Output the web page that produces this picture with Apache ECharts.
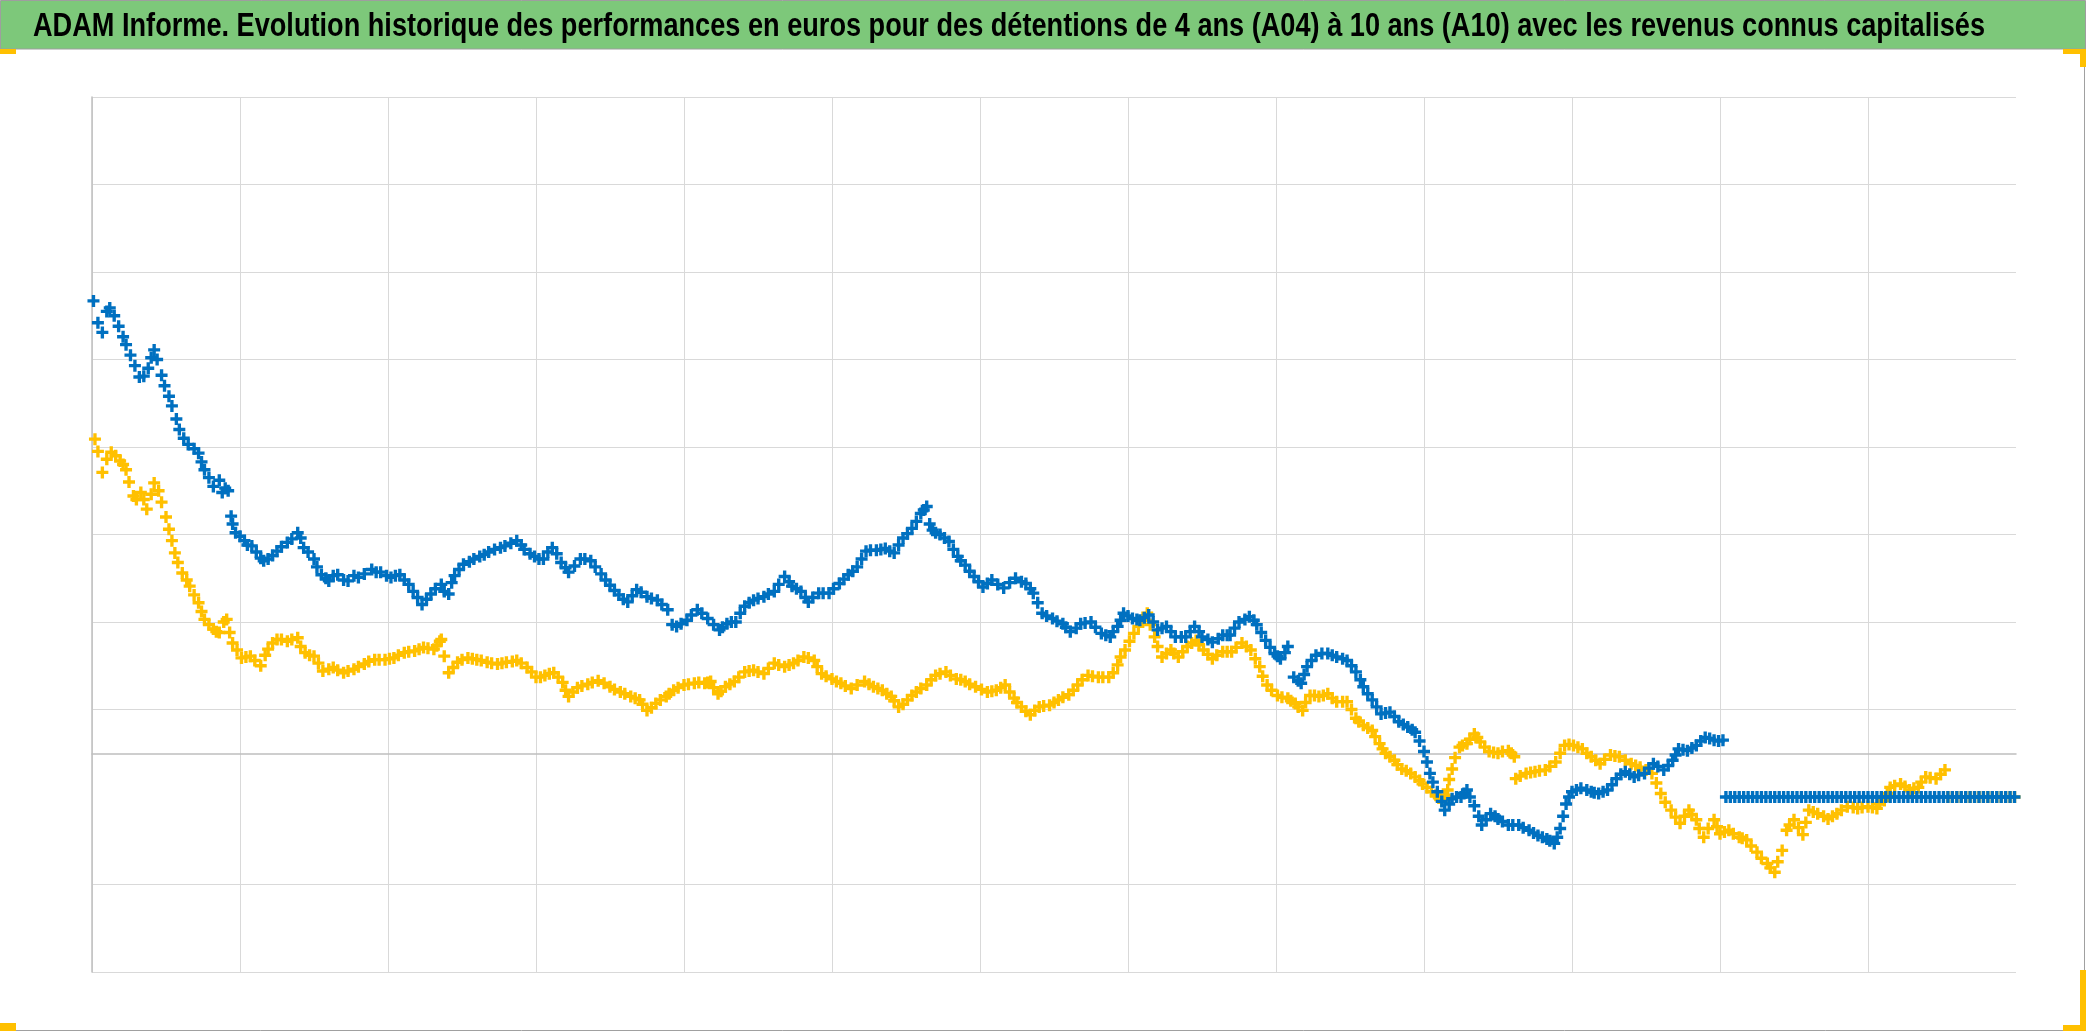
<!DOCTYPE html>
<html>
<head>
<meta charset="utf-8">
<script src="https://cdn.jsdelivr.net/npm/echarts@6/dist/echarts.min.js"></script>
<style>
html,body{margin:0;padding:0;background:#fff;}
#chart{width:2086px;height:1031px;}
</style>
</head>
<body>
<div id="chart"></div>
<script>
const titleText = 'ADAM Informe. Evolution historique des performances en euros pour des détentions de 4 ans (A04) à 10 ans (A10) avec les revenus connus capitalisés';

// x = time index (no labels shown), y = performance (euros, arbitrary scale)
const a10Perf = [[1,517],[7,481],[12,509],[18,488],[23,467],[29,443],[35,431],[40,452],[44,450],[49,420],[54,397],[59,370],[65,353],[72,343],[76,324],[82,305],[88,298],[92,300],[94,271],[97,252],[103,243],[108,237],[114,223],[119,222],[125,231],[132,241],[139,252],[143,235],[150,222],[155,204],[160,197],[166,204],[173,197],[180,201],[189,210],[195,207],[202,201],[208,204],[214,193],[220,178],[223,170],[229,182],[236,193],[241,182],[245,203],[251,216],[258,222],[265,227],[272,233],[279,237],[287,243],[292,233],[299,225],[305,222],[311,235],[317,218],[322,207],[330,222],[337,220],[344,205],
[350,192],[356,181],[362,173],[368,187],[375,179],[382,175],[389,164],[392,147],[395,145],[402,152],[409,164],[416,154],[424,141],[429,148],[435,150],[441,168],[447,175],[454,179],[461,185],[468,202],[473,191],[479,185],[484,173],[491,183],[498,183],[505,194],[511,204],[517,213],[523,231],[530,232],[536,234],[542,229],[548,246],[554,257],[560,274],[564,282],[568,255],[573,250],[579,242],[585,225],[590,215],[596,202],[602,190],[608,198],[616,189],[624,200],[631,194],[636,183],[642,160],[649,154],[656,148],[661,139],[668,148],[675,150],[682,137],[688,133],
[693,145],[697,160],[703,154],[708,152],[714,158],[720,141],[726,145],[732,133],[739,133],[745,145],[750,133],[757,127],[764,135],[769,135],[775,150],[782,156],[787,147],[793,129],[799,114],[803,108],[808,122],[812,87],[817,80],[821,99],[827,112],[835,114],[841,110],[848,106],[854,93],[859,76],[865,61],[871,45],[877,47],[883,36],[889,30],[894,24],[900,2],[904,-23],[909,-44],[914,-65],[919,-52],[925,-50],[929,-42],[934,-60],[939,-82],[945,-69],[950,-75],[957,-82],[964,-82],[971,-88],[977,-94],[983,-98],[988,-103],[992,-86],[996,-58],[1000,-44],[1006,-40],[1013,-44],[1018,-46],[1024,-42],[1030,-29],[1036,-21],
[1042,-27],[1049,-23],[1055,-12],[1062,-19],[1068,-8],[1072,5],[1078,3],[1084,9],[1090,18],[1096,15],[1102,15]];
const a10PerfMid = [[4,492],[10,505],[15,500],[21,476],[26,455],[32,430],[38,440],[42,461],[47,432],[52,408],[57,382],[62,360],[69,348],[74,333],[79,315],[86,312],[90,303],[95,262],[100,248],[105,238],[111,230],[116,220],[122,226],[128,236],[135,245],[141,246],[146,230],[152,213],[158,200],[163,203],[170,198],[177,203],[184,205],[192,207],[199,203],[205,203],[211,198],[217,185],[226,176],[232,188],[238,185],[243,195],[248,210],[255,219],[262,225],[268,230],[276,235],[283,240],[290,238],[296,228],[302,222],[308,230],[314,228],[320,212],[326,214],[333,222],[340,213],
[347,198],[353,186],[359,176],[365,180],[371,184],[378,177],[385,170],[398,148],[405,158],[412,160],[420,147],[426,144],[432,150],[438,160],[444,172],[450,177],[457,182],[464,193],[471,196],[476,188],[482,178],[487,178],[494,183],[501,188],[508,199],[514,208],[520,222],[526,232],[533,233],[539,231],[545,238],[551,251],[557,265],[562,278],[566,262],[570,252],[576,246],[582,233],[587,220],[593,208],[599,196],[605,194],[612,193],[620,195],[628,196],[634,188],[639,172],[645,157],[652,151],[658,144],[665,143],[671,149],[678,144],[685,135],
[690,139],[695,152],[700,157],[706,153],[711,155],[717,150],[723,143],[729,139],[736,133],[742,139],[748,139],[754,130],[761,131],[767,135],[772,143],[779,153],[785,152],[790,138],[796,121],[801,111],[806,115],[815,83],[819,90],[824,106],[831,114],[838,112],[845,108],[851,100],[857,84],[862,68],[868,53],[874,46],[880,42],[886,33],[892,27],[897,14],[902,-10],[906,-33],[912,-55],[917,-58],[922,-50],[927,-46],[931,-50],[937,-72],[942,-76],[948,-72],[953,-78],[960,-82],[967,-85],[974,-91],[980,-96],[985,-100],[990,-96],[994,-72],[998,-50],
[1003,-42],[1010,-42],[1015,-45],[1021,-44],[1027,-36],[1033,-24],[1039,-24],[1045,-25],[1052,-17],[1058,-15],[1065,-14],[1070,-2],[1075,4],[1081,6],[1087,14],[1093,17],[1099,14]];
const a10TailStart = 1104;
const a10Tail = [-50,-50,-50,-50,-50,-50,-50,-50,-50,-50,-50,-50,-50,-50,-50,-50,-50,-50,-50,-50,-50,-50,-50,-50,-50,-50,-50,-50,-50,-50,-50,-50,-50,-50,-50,-50,-50,-50,-50,-50,-50,-50,-50,-50,-50,-50,-50,-50,-50,-50,-50,-50,-50,-50,-50,-50,-50,-50,-50,-50,-50,-50,-50,-50,-50,-50];

const a04Perf = [[2,359],[7,321],[13,344],[19,334],[23,324],[28,294],[33,298],[37,279],[42,309],[47,287],[52,256],[56,229],[61,206],[66,191],[72,172],[76,153],[82,142],[86,138],[91,153],[95,126],[101,109],[107,111],[114,100],[119,119],[125,130],[132,128],[139,132],[144,115],[150,111],[156,94],[163,98],[170,92],[177,96],[184,102],[191,107],[198,107],[204,109],[211,115],[218,117],[224,121],[231,119],[235,128],[238,111],[241,92],[247,104],[254,109],[260,107],[267,104],[274,102],[280,104],[287,106],[294,98],[300,87],[306,89],[312,92],[318,81],[322,65],[328,75],[335,79],[342,83],
[350,76],[357,70],[364,65],[370,61],[375,49],[381,57],[388,65],[393,72],[400,78],[407,80],[414,80],[418,82],[423,68],[428,76],[434,82],[441,93],[447,95],[454,91],[461,103],[468,99],[474,103],[481,110],[488,106],[493,91],[500,85],[506,80],[513,74],[522,82],[528,76],[534,72],[540,65],[545,53],[551,61],[557,70],[564,78],[570,89],[577,93],[584,85],[590,82],[597,76],[605,70],[611,72],[617,78],[623,63],[628,53],[634,44],[640,53],[647,55],[653,61],[660,67],[666,78],[673,89],[680,87],[687,87],
[693,101],[698,118],[704,137],[710,152],[713,160],[718,133],[723,110],[729,118],[734,110],[740,122],[746,129],[751,118],[757,108],[764,116],[770,116],[777,126],[783,118],[789,99],[794,78],[801,66],[808,63],[813,57],[818,49],[823,66],[829,65],[835,68],[841,59],[848,59],[854,40],[859,32],[865,26],[870,11],[874,0],[880,-8],[885,-18],[891,-23],[897,-31],[902,-39],[908,-48],[912,-54],[916,-42],[919,-18],[924,7],[929,11],[934,22],[938,13],[944,2],[950,0],[957,3],[961,-4],[962,-29],[969,-23],[975,-21],[982,-19],[989,-10],[995,9],[1001,9],[1007,5],[1013,-4],[1019,-12],[1026,-2],[1032,-4],
[1040,-12],[1046,-16],[1054,-23],[1060,-46],[1067,-65],[1073,-80],[1079,-65],[1084,-76],[1089,-96],[1096,-76],[1100,-92],[1106,-88],[1113,-96],[1118,-99],[1125,-113],[1132,-126],[1137,-136],[1142,-111],[1145,-88],[1150,-76],[1156,-93],[1160,-65],[1166,-69],[1173,-75],[1179,-69],[1186,-61],[1193,-63],[1200,-61],[1206,-63],[1211,-54],[1215,-39],[1222,-35],[1228,-42],[1234,-39],[1239,-27],[1246,-29],[1252,-19]];
const a04PerfMid = [[4,345],[10,336],[16,340],[21,330],[25,310],[30,290],[35,290],[40,296],[45,300],[50,270],[54,243],[58,218],[64,198],[69,181],[74,162],[79,147],[84,139],[89,150],[93,138],[98,118],[104,110],[110,106],[117,112],[122,126],[128,130],[135,130],[141,122],[147,112],[153,103],[160,96],[166,95],[173,94],[180,99],[187,105],[194,107],[201,108],[207,112],[214,116],[221,119],[227,120],[233,123],[236,130],[244,98],[250,107],[257,108],[263,106],[270,103],[277,103],[284,105],[290,103],[297,93],[303,87],[309,91],[315,87],[320,72],[325,70],[331,77],[338,81],[346,80],
[353,73],[360,68],[367,63],[372,56],[378,52],[384,61],[390,68],[396,75],[403,79],[410,81],[416,81],[420,75],[425,71],[431,79],[437,87],[444,94],[450,93],[457,97],[464,101],[471,101],[477,106],[484,109],[490,99],[496,88],[503,82],[509,77],[517,78],[525,79],[531,74],[537,68],[542,60],[548,56],[554,66],[560,74],[567,84],[573,91],[580,89],[587,84],[593,79],[601,73],[608,71],[614,75],[620,70],[625,58],[631,48],[637,49],[643,54],[650,58],[656,64],[663,72],[669,84],[676,88],[683,87],
[690,92],[695,110],[701,128],[707,145],[715,147],[720,122],[726,114],[731,114],[737,116],[743,126],[748,124],[754,113],[760,112],[767,116],[773,121],[780,122],[786,108],[791,88],[797,72],[804,64],[810,60],[815,53],[820,58],[826,66],[832,66],[838,63],[845,59],[851,50],[856,36],[862,29],[867,19],[872,5],[877,-4],[882,-13],[888,-20],[894,-27],[899,-35],[905,-44],[910,-51],[914,-48],[917,-30],[921,-5],[926,9],[931,16],[936,18],[941,7],[947,1],[953,2],[959,0],[965,-26],[972,-22],[978,-20],[985,-15],[992,0],[998,10],[1004,7],[1010,0],[1016,-8],[1022,-7],[1029,-3],[1036,-8],
[1043,-14],[1050,-19],[1057,-34],[1063,-56],[1070,-73],[1076,-72],[1081,-70],[1086,-86],[1092,-86],[1098,-84],[1103,-90],[1109,-92],[1115,-97],[1121,-106],[1128,-120],[1134,-131],[1139,-124],[1147,-82],[1153,-85],[1158,-79],[1163,-67],[1170,-72],[1176,-72],[1182,-65],[1190,-62],[1196,-62],[1203,-62],[1208,-58],[1213,-46],[1218,-37],[1225,-38],[1231,-40],[1236,-33],[1242,-28],[1249,-24]];
const a04TailStart = 1254;
const a04Tail = [-50,-50,-50,-50,-50,-50,-50,-50,-50,-50,-50,-50,-50,-50,-50,-50];
const tailStep = 3;

const xMin = 0, xMax = 1300, xStep = 100;
const yMin = -250, yMax = 750, yStep = 50;

function buildSeries(main, mid, start, tail) {
  return main.concat(mid, tail.map((v, i) => [start + i * tailStep, v]));
}

const chart = echarts.init(document.getElementById('chart'), null, {renderer: 'canvas'});

// fit title to the original width with a horizontally condensed bold sans
const titleFont = 'bold 33px "Liberation Sans", Arial, sans-serif';
const cv = document.createElement('canvas').getContext('2d');
cv.font = titleFont;
const titleScale = 1952 / cv.measureText(titleText).width;

// split line colours: one every 100 from -250, the -50 line is absent
const gridCol = '#D9D9D9';
const splitColors = [];
for (let v = yMin; v <= yMax; v += yStep) {
  const on = ((v - yMin) % 100 === 0) && v !== -50;
  splitColors.push(on ? gridCol : 'rgba(0,0,0,0)');
}

const plus = 'path://M3.6,0H6.4V3.6H10V6.4H6.4V10H3.6V6.4H0V3.6H3.6Z';
const handle = '#FFC000';

chart.setOption({
  animation: false,
  backgroundColor: '#ffffff',
  grid: {left: 92, right: 70, top: 97, bottom: 59, containLabel: false},
  xAxis: {
    type: 'value', min: xMin, max: xMax, interval: xStep,
    axisLine: {show: true, onZero: true, lineStyle: {color: '#BFBFBF', width: 1.5}},
    axisTick: {show: false}, axisLabel: {show: false},
    splitLine: {show: true, showMaxLine: false, lineStyle: {color: gridCol, width: 1}}
  },
  yAxis: {
    type: 'value', min: yMin, max: yMax, interval: yStep,
    axisLine: {show: true, lineStyle: {color: '#BFBFBF', width: 1.5}},
    axisTick: {show: false}, axisLabel: {show: false},
    splitLine: {show: true, lineStyle: {color: splitColors, width: 1}}
  },
  series: [
    {name: 'A04', type: 'scatter', symbol: plus, symbolSize: 12,
     itemStyle: {color: '#FFC000', opacity: 1}, silent: true,
     data: buildSeries(a04Perf, a04PerfMid, a04TailStart, a04Tail)},
    {name: 'A10', type: 'scatter', symbol: plus, symbolSize: 12,
     itemStyle: {color: '#0070C0', opacity: 1}, silent: true,
     data: buildSeries(a10Perf, a10PerfMid, a10TailStart, a10Tail)}
  ],
  graphic: [
    {type: 'rect', shape: {x: 0.5, y: 0.5, width: 2085, height: 48.5},
     style: {fill: '#7DC87A', stroke: '#9E9E9E', lineWidth: 1}, z: 1},
    {type: 'text', x: 33, y: 27, scaleX: titleScale, z: 2,
     style: {text: titleText, font: titleFont, fill: '#000000', verticalAlign: 'middle', align: 'left'}},
    {type: 'line', shape: {x1: 2084.5, y1: 49, x2: 2084.5, y2: 1031}, style: {stroke: '#A0A0A0', lineWidth: 1}},
    {type: 'line', shape: {x1: 0, y1: 1030.5, x2: 2086, y2: 1030.5}, style: {stroke: '#A0A0A0', lineWidth: 1}},
    {type: 'rect', shape: {x: 0, y: 49, width: 16, height: 5}, style: {fill: handle}, z: 3},
    {type: 'rect', shape: {x: 0, y: 1023, width: 16, height: 8}, style: {fill: handle}, z: 3},
    {type: 'rect', shape: {x: 2063, y: 49, width: 23, height: 5}, style: {fill: handle}, z: 3},
    {type: 'rect', shape: {x: 2080, y: 49, width: 6, height: 18}, style: {fill: handle}, z: 3},
    {type: 'rect', shape: {x: 2080, y: 970, width: 6, height: 61}, style: {fill: handle}, z: 3},
    {type: 'rect', shape: {x: 2063, y: 1025, width: 23, height: 6}, style: {fill: handle}, z: 3}
  ]
});
</script>
</body>
</html>
